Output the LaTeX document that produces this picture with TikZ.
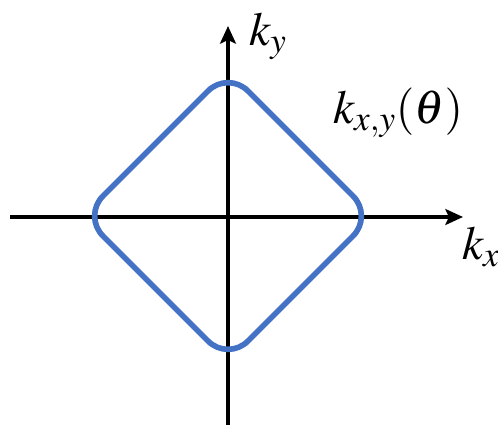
\documentclass[tikz,border=0pt]{standalone}
\usepackage{mathptmx}
\usetikzlibrary{arrows.meta,calc}
\definecolor{curveblue}{RGB}{68,114,196}

\begin{document}
\begin{tikzpicture}[
    x=0.02cm, y=-0.02cm,
    axis/.style={line width=2pt, -{Stealth[length=10pt, width=9pt, inset=2pt]}},
    contour/.style={draw=curveblue, line width=3.2pt, rounded corners=16pt},
    lbl/.style={font=\fontsize{27}{30}\selectfont, inner sep=0pt},
]
    \useasboundingbox (0,0) rectangle (498,425);

    % axes
    \coordinate (xleft) at (10,217);
    \coordinate (xright) at (463,217);
    \coordinate (ybottom) at (228,425);
    \coordinate (ytop) at (228,26);
    \draw[axis] (xleft) -- (xright);
    \draw[axis] (ybottom) -- (ytop);

    % rounded square contour
    \coordinate (top) at (228,71);
    \coordinate (right) at (373,216);
    \coordinate (bottom) at (228,361);
    \coordinate (left) at (83,216);
    \draw[contour] ($(top)!0.5!(right)$) -- (right) -- (bottom) -- (left) -- (top) -- cycle;

    \node[lbl] (kylabel) at (268,36) {$k_y$};
    \node[lbl] (kxlabel) at (481,247) {$k_x$};
    \node[lbl] (klabel) at (398,113) {$k_{x,y}(\theta)$};
\end{tikzpicture}
\end{document}
